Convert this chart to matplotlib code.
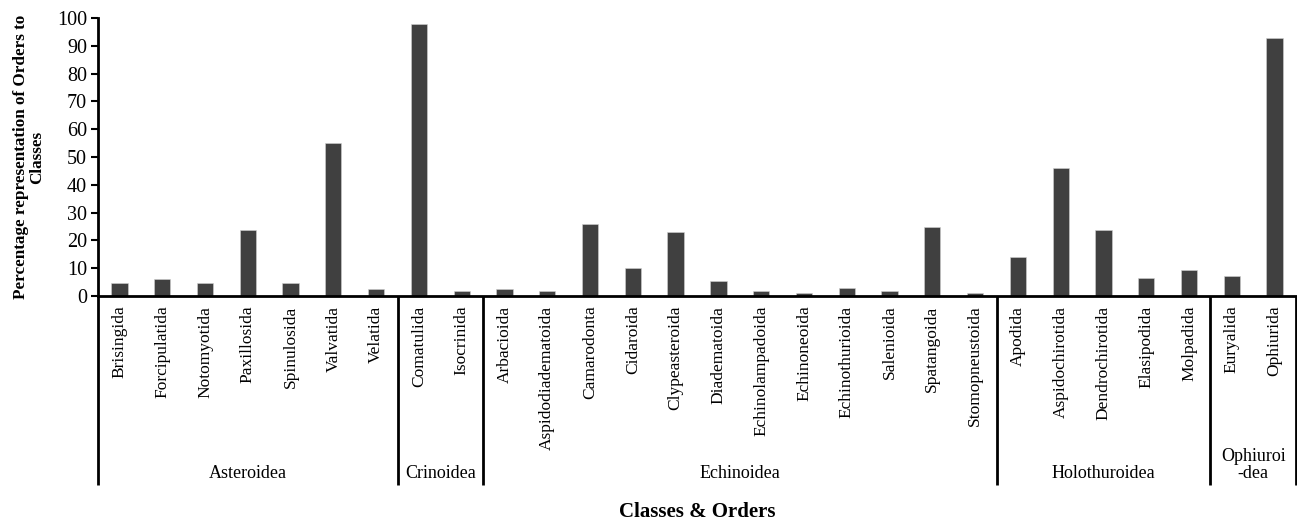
import matplotlib.pyplot as plt
from matplotlib.transforms import blended_transform_factory

plt.rcParams['font.family'] = ['Liberation Serif', 'DejaVu Serif']

# orders (x categories), in chart order
orders = ['Brisingida', 'Forcipulatida', 'Notomyotida', 'Paxillosida', 'Spinulosida',
          'Valvatida', 'Velatida', 'Comatulida', 'Isocrinida', 'Arbacioida',
          'Aspidodiadematoida', 'Camarodonta', 'Cidaroida', 'Clypeasteroida',
          'Diadematoida', 'Echinolampadoida', 'Echinoneoida', 'Echinothurioida',
          'Salenioida', 'Spatangoida', 'Stomopneustoida', 'Apodida',
          'Aspidochirotida', 'Dendrochirotida', 'Elasipodida', 'Molpadida',
          'Euryalida', 'Ophiurida']
percent = [4.7, 6.0, 4.7, 23.7, 4.7, 54.9, 2.4, 98.0, 1.7, 2.4,
           1.7, 26.0, 10.1, 23.0, 5.3, 1.7, 1.1, 3.0,
           1.7, 24.7, 1.1, 14.1, 46.0, 23.6, 6.5, 9.5,
           7.1, 92.7]

# classes and how many orders each one holds
classes = ['Asteroidea', 'Crinoidea', 'Echinoidea', 'Holothuroidea', 'Ophiuroi\n-dea']
class_sizes = [7, 2, 12, 5, 2]

fig = plt.figure(figsize=(12.97, 5.22), dpi=100)
ax = fig.add_axes([98 / 1297, 1 - 296 / 522, 1198 / 1297, 278 / 522])

x = list(range(len(orders)))
ax.bar(x, percent, width=0.38, color='#404040', edgecolor='#d0d0d0', linewidth=0.4)

ax.set_xlim(-0.5, len(orders) - 0.5)
ax.set_ylim(0, 100)
ax.set_yticks(range(0, 101, 10))
ax.tick_params(axis='y', labelsize=14.5, length=5, width=1.5, pad=3)
ax.set_xticks(x)
ax.set_xticklabels(orders, rotation=90, fontsize=12.5, va='top')
ax.tick_params(axis='x', length=0, pad=7)

for side in ['top', 'right']:
    ax.spines[side].set_visible(False)
ax.spines['left'].set_linewidth(2)
ax.spines['bottom'].set_linewidth(2)

# group separators and class labels under the axis
trans = blended_transform_factory(ax.transData, ax.transAxes)
line_bottom = -(485 - 296) / 278
bounds = [-0.5]
for n in class_sizes:
    bounds.append(bounds[-1] + n)
for b in bounds:
    ax.plot([b, b], [0, line_bottom], color='black', lw=2, transform=trans,
            clip_on=False, solid_capstyle='butt')
for i, name in enumerate(classes):
    mid = (bounds[i] + bounds[i + 1]) / 2
    y = -(474 - 296) / 278 if '\n' not in name else -(465 - 296) / 278
    ax.text(mid, y, name, transform=trans, ha='center', va='center',
            fontsize=13, linespacing=1.05)

ax.set_ylabel('Percentage representation of Orders to\nClasses', fontsize=12.3,
              fontweight='bold', linespacing=1.05)
ax.yaxis.set_label_coords(-0.044, 0.5)
fig.text(697 / 1297, 1 - 512 / 522, 'Classes & Orders', ha='center',
         va='center', fontsize=15, fontweight='bold')

fig.savefig('out.png', dpi=100)
